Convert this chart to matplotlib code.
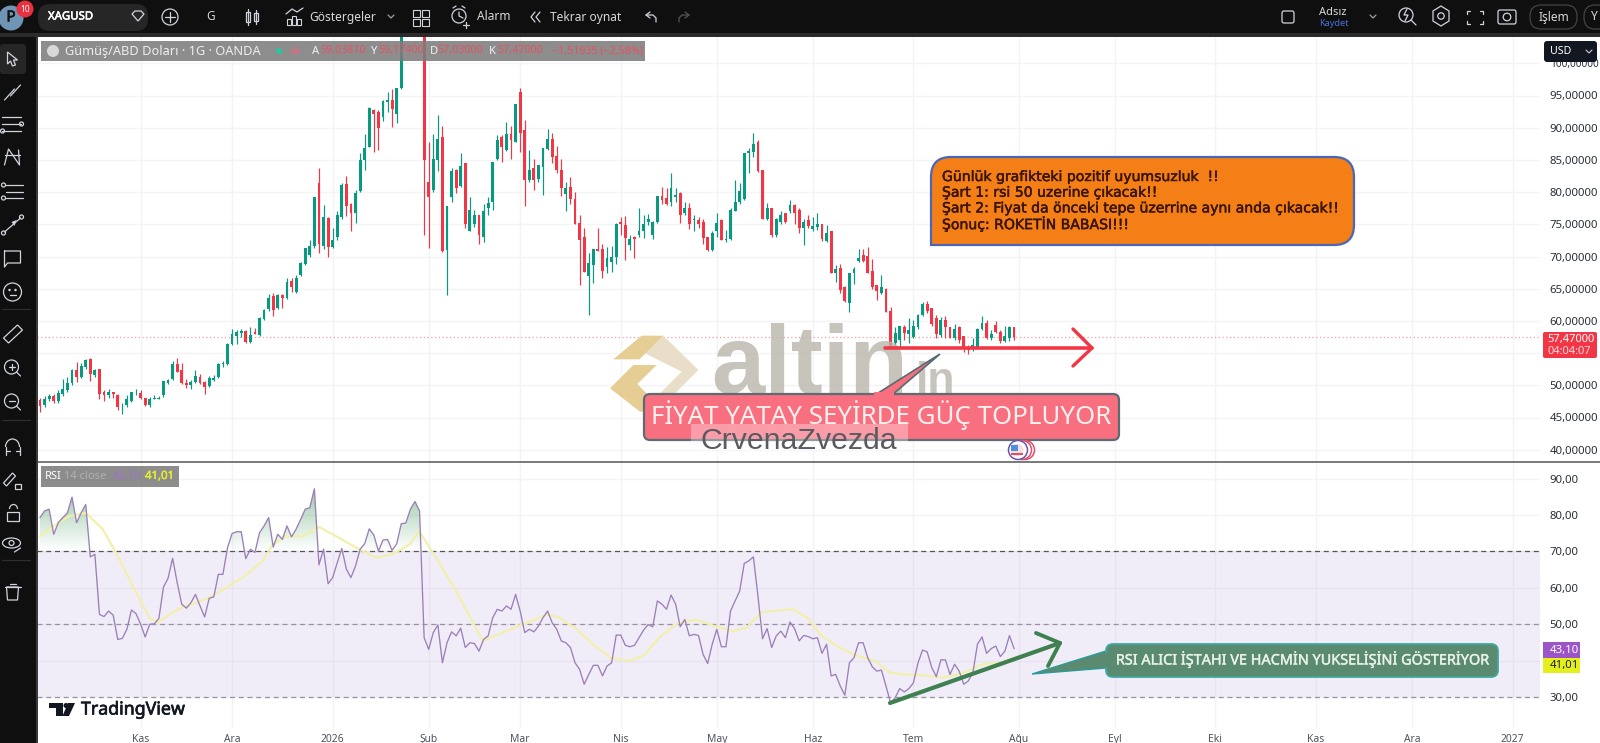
import numpy as np
import matplotlib
matplotlib.use("Agg")
import matplotlib.pyplot as plt
import matplotlib.patheffects as pe
from matplotlib.patches import FancyBboxPatch, Polygon, Circle, Rectangle, PathPatch
from matplotlib.path import Path

plt.rcParams['font.family'] = ['Noto Sans', 'DejaVu Sans']

opens = [47.7,46.9,47.9,48.4,47.6,48.6,49.3,50.3,52.3,51.3,
52.8,54.1,51.6,52.5,49,48.5,48.9,48.5,46.9,47,
47.5,48.9,48.8,48,46.9,47.9,47.9,48.5,50.3,51,
53.3,52.3,50.4,50,50.5,51.3,50.5,49.9,50.8,51.3,
53.3,53.3,56.4,57.7,58.1,58.4,56.8,58.2,57.8,60.3,
61.8,63.8,62,64,63.6,66.2,64.5,67.2,68.9,70.2,
71.6,81.4,71.6,76,71.4,73,76.2,81.2,78.2,76.7,
80.2,85,87,92.8,92.5,91.7,94,94.3,92.2,96.1,
105,111,116,114,112,81.6,80.4,85,88.5,71,
79.3,83.4,81,84.5,74,75.1,76.4,73.1,77.5,78.5,
85.1,88.5,86.5,89,87.8,95.6,89.7,81.9,83.7,82.1,
83.9,86.7,88.3,85.6,83.4,79.7,80.8,79,75.2,73,
67,68.7,71.1,71.2,68.3,69.2,70,75.3,74.9,71.8,
73.1,73.3,73.9,75.3,73.3,75.3,79.4,79.1,78.5,79.2,
79.9,76.7,77.5,75.6,75.6,75.4,73,71,73.9,75.7,
72.6,72.7,77.1,78.4,79,86,86.3,87.8,83.5,75.8,
77.5,73.3,75.4,76.7,77,78,77.2,74.5,75.7,74.2,
74.6,75,72.4,73.9,67.5,68.2,65.3,62.8,67.4,69.3,
70.2,70,67.8,65.6,64.4,65,61.6,56.5,57.1,59.1,
58,57.5,59.1,60.9,62.7,62,60.4,57.8,60.2,59,
57.3,59,57.6,55.8,55.6,56,58.8,59.7,57.3,59.3,
58.3,56.9,57.3,59]
highs = [48,48.3,48.6,48.7,49.2,51,51.3,52.5,53.6,53.4,
54.1,54.3,52.6,52.6,49.3,49.4,49,48.6,47.2,48.5,
49,49.4,49.2,48.1,48.2,48.5,48.4,50.7,51,53.7,
54.2,53.4,51,50.9,52.3,51.7,50.6,51.4,51.6,53.4,
53.8,56.5,58.8,58.6,58.8,58.6,59,58.9,60.6,61.9,
64.1,64.3,64.2,64.1,66.7,66.6,67.1,69.2,71.3,72.5,
79.3,83.8,78,76.1,74.4,77.1,81.4,82.5,78.3,80.4,
86,89,93.2,92.9,92.7,94.3,95.5,96,96.2,108,
112,117,121,122,115,87.8,89,92,90.2,77.9,
83.7,83.6,86.1,84.5,79.2,77.2,76.5,78.2,79.3,84.6,
88.9,88.9,90.9,90.2,93.7,96.1,91.2,86.6,85.2,84.2,
86.8,89.8,89.2,87.1,85.2,81.5,82.4,80,76.5,74.4,
70.6,71.1,74.5,72,71.5,71.6,75.2,76.2,76.3,73.3,
73.2,77.5,76.4,76.6,75.5,79.4,80.8,80.7,82.9,80.6,
80,78.5,78.3,76.4,76.2,75.9,73.1,73.9,76.8,75.9,
74.1,77.6,81.9,81.4,86,86.8,89.1,88.1,83.5,78.3,
77.6,76,77,76.8,78.7,78.2,77.5,75.9,76.4,76.2,
76.8,75.1,74.9,74,68.7,68.9,65.4,67.4,68.4,71.1,
71.1,71.5,69.6,65.6,67.1,65.1,62.2,59.1,59.2,59.4,
60.4,60.2,61,62.9,63.1,62,60.9,60.6,60.7,59.1,
59.5,59.2,57.7,56.2,57.3,58.9,60.7,60.1,58.6,60,
58.6,59.2,59.2,59.1]
lows = [45.9,46.6,47.6,47.2,47.3,48.3,49,50.1,50.5,51.2,
52.6,50.7,51.3,47.8,47.6,48.1,48,46.2,45.6,46.7,
47.4,48.5,47.8,46.8,46.6,47.8,47.8,48.2,50.2,50.8,
52,50.2,49.6,49.4,50.4,50.2,48.7,49.7,50.6,51.2,
52.8,53.2,56.2,56.4,57.5,56.6,56.5,57.9,57.7,60.1,
61.6,60.8,61.8,62,63.4,64.5,64.3,67,68.7,70,
71.3,70.5,71.1,70,71.3,72.6,75.9,76.3,73.9,75.2,
80,83.4,87,86.3,86.5,91,92.4,90.1,90.8,96,
104.6,110,113,108,73.3,71.3,80,83.2,70.7,64,
78.5,79.9,80.8,74.4,73.9,74.6,72,72.3,76.4,77.2,
85,84.7,86.4,85.1,87.8,86.3,77.9,81.6,80.3,81.6,
79.5,86.6,84.5,82.9,79.4,77,78.1,75,65.5,67.6,
60.9,65.9,70.8,66.6,67.4,67.6,68.9,73.3,69.5,71,
69.7,73,72.8,74.9,72.7,75.2,78.2,78,77.9,78.5,
75.2,76.4,74.2,73.9,74.4,72,70.8,70.9,73,72.5,
72.3,72.6,77,78.2,78.8,82.9,85.5,83.1,75.8,75.6,
73,73,75.1,75.2,76.7,75.1,73.6,71.8,74.5,74,
74.1,72.4,72.3,67.5,66.1,64.3,63,61.4,65.8,69.2,
69.1,67.4,65,63.2,64.2,61.4,56,56.3,56,57,
56.5,57.3,58.8,60.7,61.3,59.2,57.3,57.5,57.3,57.4,
57,56.5,55.2,54.9,55.4,55.9,58.6,57.2,57,58.1,
56.6,56.8,56.9,57]
closes = [46.8,47.8,48.3,47.5,48.8,49.5,50.3,52.4,51.3,53,
54,51.8,52.3,48.6,48.5,48.9,48.6,46.7,47,47.8,
48.9,49,48,46.9,47.9,48,48.1,50.6,50.9,53.3,
52.1,50.3,50,50.5,51.5,50.4,49.7,51.2,51.2,53.3,
53.5,56.4,58,58.3,58.4,56.8,57.8,57.9,60.5,61.7,
63.5,61.7,64,63.6,66,65.2,66.6,69,71.3,71.6,
79.3,72,76.1,71.5,72.6,76.4,81.1,77.9,76.7,79.8,
85,86.8,93,92.2,90,94.2,94.3,92.9,96.1,105,
111,116,114,112,85,79.2,85.2,88.2,70.8,77.9,
83.2,80.6,84.1,75.1,77.2,76.5,73.3,77,78.3,84.6,
88.1,87,89,88.1,93.7,89.1,81.9,83.4,81.9,84.2,
86.8,88.2,85.5,83.4,80.6,80.6,79,75.1,72.6,67.6,
69,71.1,70.9,67.8,69.7,69.9,75.1,75,72.8,72.7,
72.7,73.9,75.1,75.8,75.4,79.4,78.7,78.2,80.7,79.6,
76.5,77.5,75.1,75.8,75.1,72.8,71,73.6,75.2,72.6,
72.7,77.2,78.4,80.2,86,86.4,87.5,83.2,75.8,77.6,
73.3,75.8,76.4,75.3,78,76.8,74.4,75.4,74.7,74.7,
75,72.7,73.6,67.5,68,64.8,63.1,67.4,68,69.7,
69.3,67.5,65.2,64.7,65.2,61.4,56,58.1,59.2,58.1,
58.6,59.2,60.9,62.6,61.6,59.5,58,60.1,59,57.4,
58.8,57,56,55.5,56.3,58.8,59.7,57.4,58,58.3,
56.9,57.6,59,57.47]
rsi = [79.3,81.1,81.6,74.7,77.9,79.3,80.6,84.9,77.9,80.6,
82.9,68.5,69.2,52.7,52.1,53.6,52.5,45.8,46.1,48.6,
53.9,52.9,50,46.5,50,50.1,51.6,60.2,62.6,68.1,
61.4,55.5,54.4,55.9,58.2,55,52,57.1,57.5,63.7,
63.7,71,74.9,75.4,75.4,68,70.6,69.7,75.1,77,
79.3,71.2,74.7,73.3,77,74,76.1,78.8,81.6,82,
87.2,66.3,70.6,61.1,62.8,66.9,70.8,65.1,62.8,66,
70.6,72.1,76.2,74.5,70.1,73.1,73.3,70.3,72.1,77.6,
77.8,81.6,83.7,81.1,46.3,43.1,47.7,49.8,39.4,44.9,
47.9,46.8,48.9,43.6,44.9,44.7,42.6,45.8,46.8,51.8,
54.1,53.6,55,54.1,58.2,53.6,47.7,48.6,47.9,49.5,
51.8,53.6,50.4,48.6,45.4,44.9,43.6,39.4,37.6,33.5,
36.2,38.7,38.7,35.8,38.5,39.4,47,47,44.2,43.8,
44.2,46.3,48.4,49.9,49.3,56.4,55.5,54.1,58,55.5,
49.3,51.3,46.8,47.2,46.9,41.7,39.2,44.5,48.6,43.8,
43.8,53.6,56.4,59.1,66.7,67.4,68.5,57.7,46,48.8,
43.6,46.8,48.1,46.3,50.6,48.8,45.4,46.9,46.6,46,
46.3,42,44.5,35.8,36.2,33,30.5,39.4,40.8,44.9,
44.9,40.8,38.3,37.1,37.4,33,28.4,29.8,32.3,31.4,
32.3,33.9,39.4,42.9,42.4,38.1,35.6,40.2,40.2,36.2,
39,37.1,33.5,34.4,36.7,44.5,46.5,42,43.3,44,
41.1,42.6,46.9,43.3]
ma_bars = [0,3.5,6.4,10,13.7,16.6,20.3,23.9,25.7,28.3,31.2,34.1,37,40.7,44.3,48.7,50.9,53.8,57.4,61.1,
64.7,69.8,73.5,77.1,80.8,82.9,86.6,91,96.8,101.2,106.3,108.4,110.8,113.5,117,120.9,124.8,128.7,131.9,135.8,
139.7,143.6,147.5,151.4,154.5,157.6,161.5,164.7,167.8,170.9,174.8,178.7,182.6,185.8,188.9,192.8,197.5,202.2,206,210,213]
ma_vals = [74.2,77.4,79.7,80.6,76.1,69.7,60.5,51.8,50.4,52.7,54.7,55.9,57.3,60,62.8,67.4,71.9,74.2,74.2,76.7,
74.2,70.6,68.3,69.2,71.9,75.6,68.3,59.1,45.4,47.7,50.4,51.3,52.7,51.8,49,44.5,40.8,39.9,41.3,46.8,
50.4,51.2,49.5,48.1,49,53.2,53.8,54.1,51.8,46.8,43.6,41.3,39.9,36.7,36.2,36,35.3,36.7,39,39.4,40.8]
price_ticks = [40,45,50,60,65,70,75,80,85,90,95,100]
price_labels = ["40,00000","45,00000","50,00000","60,00000","65,00000","70,00000","75,00000","80,00000","85,00000","90,00000","95,00000","100,00000"]
rsi_ticks = [30,50,60,70,80,90]
rsi_labels = ["30,00","50,00","60,00","70,00","80,00","90,00"]
date_bars = [22,42,64,85,105,127,148,169,191,214,235,257,279,300,322]
date_labels = ["Kas","Ara","2026","Şub","Mar","Nis","May","Haz","Tem","Ağu","Eyl","Eki","Kas","Ara","2027"]
last_price = 57.47
rsi_last, ma_last = 43.10, 41.01

W, H = 1600, 743
fig = plt.figure(figsize=(W/100, H/100), dpi=100, facecolor='white')
def pane(x0, y0, x1, y1, z):
    a = fig.add_axes([x0/W, 1-y1/H, (x1-x0)/W, (y1-y0)/H], zorder=z)
    a.set_facecolor('none')
    return a

# price pane
GRID = '#f3f4f6'
PX_L, PX_R = 37, 1540
bar_px = 4.573
xlim = ((PX_L-40)/bar_px, (PX_R-40)/bar_px)
ax = pane(PX_L, 37, PX_R, 462, 2)
ax.set_xlim(*xlim)
ax.set_ylim(40-(462-449.7)/6.44, 40+(449.7-37)/6.44)
O, Hi, Lo, C = map(np.array, (opens, highs, lows, closes))
X = np.arange(len(O))
cols = np.where(C >= O, '#089981', '#f23645')
for t in list(range(40, 101, 5)):
    ax.axhline(t, color=GRID, lw=1, zorder=0)
for b in date_bars:
    ax.axvline(b, color=GRID, lw=1, zorder=0)
ax.vlines(X, Lo, Hi, colors=cols, lw=0.85, zorder=2)
ax.bar(X, np.abs(C-O), bottom=np.minimum(O, C), width=0.62, color=cols, lw=0, zorder=3)
ax.axhline(last_price, color='#f23645', lw=0.9, ls=(0, (1, 2)), alpha=0.5, zorder=1)
ax.yaxis.tick_right()
ax.set_yticks(price_ticks, price_labels, fontsize=8.2, color='#2a2e39')
ax.get_yticklabels()[-1].set_fontsize(7.2)
ax.set_xticks([])
ax.tick_params(axis='y', length=0, pad=7)
for s in ax.spines.values():
    s.set_visible(False)

# RSI pane
ar = pane(PX_L, 462, PX_R, 728, 2)
ar.set_xlim(*xlim)
ylo, yhi = 30-(728-697)/3.64, 30+(697-462)/3.64
ar.set_ylim(ylo, yhi)
for t in range(30, 91, 10):
    ar.axhline(t, color=GRID, lw=1, zorder=0)
for b in date_bars:
    ar.axvline(b, color=GRID, lw=1, zorder=0)
ar.axhspan(30, 70, color='#7e57c2', alpha=0.1, lw=0, zorder=0.5)
ar.axhline(70, color='#555555', lw=0.9, ls=(0, (4, 3)), zorder=1)
ar.axhline(50, color='#9a90a0', lw=0.9, ls=(0, (4, 3)), zorder=1)
ar.axhline(30, color='#9a90a0', lw=0.9, ls=(0, (4, 3)), zorder=1)
R = np.array(rsi)
fb = ar.fill_between(X, 70, R, where=R >= 70, interpolate=True, color='none', lw=0)
clip = Path.make_compound_path(*fb.get_paths())
grad = np.zeros((64, 2, 4))
grad[..., :3] = matplotlib.colors.to_rgb('#3f9a55')
grad[..., 3] = np.linspace(0.55, 0.0, 64)[:, None]
im = ar.imshow(grad, extent=(xlim[0], xlim[1], 70, 88), aspect='auto', zorder=1.5, origin='upper')
im.set_clip_path(PathPatch(clip, transform=ar.transData))
ar.set_xlim(*xlim); ar.set_ylim(ylo, yhi)
ar.plot(ma_bars, ma_vals, color='#f2f0a8', lw=1.5, zorder=2, solid_capstyle='round')
ar.plot(X, R, color='#9b7fb8', lw=0.95, zorder=3)
ar.yaxis.tick_right()
ar.set_yticks(rsi_ticks, rsi_labels, fontsize=8.2, color='#2a2e39')
ar.tick_params(axis='y', length=0, pad=7)
ar.set_xticks(date_bars, date_labels, fontsize=7.4, color='#50535e')
ar.tick_params(axis='x', length=0, pad=4)
for s in ar.spines.values():
    s.set_visible(False)

# overlay in image pixels
ov = pane(0, 0, W, H, 5)
ov.set_xlim(0, W); ov.set_ylim(H, 0); ov.axis('off')

def rbox(x0, y0, x1, y1, r, fc, ec='none', lw=0, alpha=None, z=5):
    p = FancyBboxPatch((x0+r, y0+r), x1-x0-2*r, y1-y0-2*r, boxstyle=f"round,pad={r},rounding_size={r}",
                       fc=fc, ec=ec, lw=lw, alpha=alpha, zorder=z)
    ov.add_patch(p); return p
def rect(x0, y0, x1, y1, fc, alpha=None, z=5):
    ov.add_patch(Rectangle((x0, y0), x1-x0, y1-y0, fc=fc, ec='none', alpha=alpha, zorder=z))
def poly(pts, fc, ec='none', lw=0, alpha=None, z=5):
    ov.add_patch(Polygon(pts, closed=True, fc=fc, ec=ec, lw=lw, alpha=alpha, zorder=z))
def line(xs, ys, c='#d1d4dc', lw=0.9, z=6, **k):
    ov.plot(xs, ys, color=c, lw=lw, zorder=z, solid_capstyle='round', **k)
def circ(x, y, r, fc='none', ec='#d1d4dc', lw=0.9, z=6):
    ov.add_patch(Circle((x, y), r, fc=fc, ec=ec, lw=lw, zorder=z))
def txt(x, y, s, c='#d8d8d8', fs=8.5, ha='left', va='center', w='normal', z=7, stroke=0, **k):
    t = ov.text(x, y, s, color=c, fontsize=fs, ha=ha, va=va, fontweight=w, zorder=z, **k)
    if stroke:
        t.set_path_effects([pe.withStroke(linewidth=stroke, foreground=c)])
    return t

# pane divider and frame
line([37, 1600], [462, 462], c='#555555', lw=1.1, z=4)

# watermark logo
WM = 3
gold, beige = '#e6cd94', '#e9dfc8'
def lp(pts): return [(600+a/3, 320+b/3) for a, b in pts]
poly(lp([(190,47),(295,150),(210,235),(165,235),(245,155),(135,100),(190,47)]), beige, z=WM)
poly(lp([(40,118),(125,47),(190,47),(118,118)]), gold, z=WM)
poly(lp([(30,205),(100,135),(170,135),(112,192),(180,262),(165,275),(120,275)]), gold, z=WM)
txt(711, 393, "altin", c='#b9b6aa', fs=69, w='bold', va='baseline', z=WM, family='Liberation Sans', alpha=0.8)
txt(916, 393, "in", c='#b9b6aa', fs=32, w='bold', va='baseline', z=WM, family='Liberation Sans', alpha=0.8)

# red horizontal arrow
RED = '#f23645'
line([885, 1092], [348, 348], c=RED, lw=2.6)
line([1073, 1092, 1073], [329, 348, 366], c=RED, lw=2.4)

# red callout
poly([(875, 395), (940, 354), (892, 395)], '#f8707f', ec='#566a72', lw=1.2, z=6)
rbox(644, 394, 1119, 440, 6, '#f8707f', ec='#5d6b73', lw=1.6, z=6)
rect(874, 392, 894, 397, '#f8707f', z=6.1)
txt(881, 415, "FİYAT YATAY SEYİRDE GÜÇ TOPLUYOR", c='#fdf0ee', fs=18.6, ha='center', z=7)
rect(691, 424, 908, 456, 'white', alpha=0.32, z=7.1)
txt(700, 441, "CrvenaZvezda", c='#5a5a60', fs=21.8, z=7.2, family='Liberation Sans')

# orange note
ox0, oy0, ox1, oy1, cr = 931, 157, 1354, 245, 20
verts = [(ox0, oy1), (ox0, oy0+cr), (ox0, oy0), (ox0+cr, oy0), (ox1-cr, oy0), (ox1, oy0), (ox1, oy0+cr),
         (ox1, oy1-cr), (ox1, oy1), (ox1-cr, oy1), (ox0, oy1), (ox0, oy1)]
codes = [Path.MOVETO, Path.LINETO, Path.CURVE3, Path.CURVE3, Path.LINETO, Path.CURVE3, Path.CURVE3,
         Path.LINETO, Path.CURVE3, Path.CURVE3, Path.LINETO, Path.CLOSEPOLY]
ov.add_patch(PathPatch(Path(verts, codes), fc='#f57f17', ec='#4a66b8', lw=1.6, zorder=6))
note = ["Günlük grafikteki pozitif uyumsuzluk  !!", "Şart 1: rsi 50 uzerine çıkacak!!",
        "Şart 2: Fiyat da önceki tepe üzerrine aynı anda çıkacak!!", "Şonuç: ROKETİN BABASI!!!"]
for i, s in enumerate(note):
    txt(942, 177+i*15.7, s, c='#3a1500', fs=10.1, z=7, family='DejaVu Sans', stroke=0.35)

# green trend arrow
GR = '#3f8050'
line([890, 1060], [703, 643], c=GR, lw=3)
line([1036, 1060, 1048], [633, 643, 666], c=GR, lw=2.8)

# green callout
poly([(1106, 651), (1032, 674), (1106, 668)], '#5a8a70', ec='#2b9c9a', lw=1.0, z=6)
rbox(1106, 644, 1498, 677, 7, '#5a8a70', ec='#3fa8a0', lw=1.3, z=6)
rect(1103, 653, 1110, 667, '#5a8a70', z=6.1)
txt(1302, 660, "RSI ALICI İŞTAHI VE HACMİN YUKSELİŞİNİ GÖSTERİYOR", c='#e9f2e8', fs=10.4, ha='center', z=7, stroke=0.3)

# event icon
for cx, e in [(1025, '#e0506a'), (1022, '#e0506a'), (1018, '#6a55a8')]:
    circ(cx, 450, 9.5, fc='white', ec=e, lw=1.1, z=6)
circ(1017, 450, 6.5, fc='#f6dfe3', ec='none', lw=0, z=6.2)
rect(1011, 445, 1018, 451, '#4d8fe0', z=6.3)
rect(1011, 453, 1023, 454.5, '#e05060', z=6.3)

# price scale tags
rbox(1544, 41, 1597, 62, 3, '#131722', z=6)
txt(1550, 51.5, "USD", c='white', fs=7.6, z=7)
line([1586, 1589, 1592], [50, 53, 50], c='#c8c8c8', lw=0.8, z=7)
rbox(1543, 332, 1597, 358, 2, RED, z=6)
txt(1547, 339.5, "57,47000", c='white', fs=8, z=7)
txt(1547, 351, "04:04:07", c='#fbd7da', fs=8, z=7)
rect(1543, 642, 1580, 658, '#9c55c8', z=6)
rect(1543, 658, 1580, 673, '#e4f01e', z=6)
txt(1550, 650, "43,10", c='white', fs=8.2, z=7)
txt(1550, 665.5, "41,01", c='#222222', fs=8.2, z=7)

# legends
rect(41, 41, 645, 61, '#7d7d7d', alpha=0.88, z=6)
circ(53, 51, 6, fc='#d8d8d8', ec='none', lw=0, z=7)
txt(65, 51, "Gümüş/ABD Doları · 1G · OANDA", c='#eeeeee', fs=9.2, z=7)
circ(279, 51, 3, fc='#26c7a0', ec='none', lw=0, z=7)
txt(290, 51, "≡", c='#f2657a', fs=9, z=7)
for lx, lab, vx, val in [(312, "A", 320, "59,03810"), (370, "Y", 378, "59,17400"),
                         (430, "D", 437, "57,03000"), (489, "K", 497, "57,47000")]:
    txt(lx, 51, lab, c='#f2f2f2', fs=8, z=7)
    txt(vx, 51, val, c='#e8505f', fs=7.7, z=7)
txt(552, 51, "−1,51935 (−2,58%)", c='#e8505f', fs=7.7, z=7)
rect(41, 466, 179, 487, '#7d7d7d', alpha=0.88, z=6)
txt(45, 476.5, "RSI", c='white', fs=8, z=7)
txt(64, 476.5, "14 close", c='#b0b0b0', fs=8, z=7)
txt(113, 476.5, "43,10", c='#a070d0', fs=8, z=7)
txt(145, 476.5, "41,01", c='#e6ee30', fs=8.2, z=7, stroke=0.3)

# TradingView mark
poly([(49,703),(63,703),(63,716),(56,716),(56,708),(49,708)], '#131722', z=6)
circ(66, 705.5, 2.5, fc='#131722', ec='none', lw=0)
poly([(68,703),(75,703),(69,716),(62.5,716)], '#131722', z=6)
txt(81, 709.5, "TradingView", c='#131722', fs=12.8, z=7, stroke=0.5)

# dark chrome
rect(0, 0, W, 33, '#0f0f0f', z=8)
rect(0, 33, W, 37, '#2b2b2b', z=8)
rect(0, 37, 36, H, '#0f0f0f', z=8)
rect(36, 37, 37.5, H, '#3a3a3a', z=8)
Z = 9
def L(xs, ys, c='#d1d4dc', lw=0.9): line(xs, ys, c=c, lw=lw, z=Z)
def CC(x, y, r, c='#d1d4dc', lw=0.9, fc='none'): circ(x, y, r, fc=fc, ec=c, lw=lw, z=Z)
def T(x, y, s, **k): txt(x, y, s, z=Z+1, **k)

circ(11, 18, 12.5, fc='#6f94b4', ec='none', lw=0, z=Z)
T(11, 18, "P", c='#111111', fs=11, ha='center', stroke=0.4)
circ(25, 9, 8.5, fc='#e8303f', ec='none', lw=0, z=Z+0.5)
T(25, 9, "10", c='white', fs=6, ha='center')
rbox(38, 4, 148, 31, 12, '#262626', z=Z-0.5)
T(48, 17, "XAGUSD", c='white', fs=8.2, stroke=0.4)
poly([(132, 14), (135, 11), (141, 11), (144, 14), (138, 21)], 'none', ec='#d1d4dc', lw=0.9, z=Z)
CC(170, 17, 8); L([165, 175], [17, 17]); L([170, 170], [12, 22])
T(211, 17, "G", fs=8.5, ha='center')
for cx, a, b in [(248, 12, 22), (256, 13, 21)]:
    ov.add_patch(Rectangle((cx-2, a), 4, b-a, fc='none', ec='#d1d4dc', lw=0.9, zorder=Z))
    L([cx, cx], [a-3, b+3])
for bx, top in [(287, 19), (292, 16), (297, 19)]:
    ov.add_patch(Rectangle((bx, top), 4, 25-top, fc='none', ec='#d1d4dc', lw=0.8, zorder=Z))
L([286, 292, 297, 303], [14, 9, 12, 8])
T(309, 17, "Göstergeler", fs=8.6)
L([388, 391, 394], [15, 18, 15], c='#a0a0a0')
for sx, sy in [(413, 10), (422, 10), (413, 19), (422, 19)]:
    ov.add_patch(Rectangle((sx, sy), 6.5, 6.5, fc='none', ec='#d1d4dc', lw=0.8, zorder=Z))
CC(459, 16, 7); L([459, 459, 463], [12, 16, 18]); L([453, 456], [8, 6]); L([465, 462], [8, 6]); L([466, 466], [22, 28]); L([463, 469], [25, 25])
T(477, 17, "Alarm", fs=8.6)
L([535, 531, 535], [12, 17, 22]); L([540, 536, 540], [12, 17, 22])
T(550, 17, "Tekrar oynat", fs=8.6)
L([650, 646, 650], [12, 15, 18]); L([646, 653, 656, 656], [15, 15, 18, 22])
L([685, 689, 685], [12, 15, 18], c='#555555'); L([689, 682, 679, 679], [15, 15, 18, 22], c='#555555')
ov.add_patch(FancyBboxPatch((1282, 11), 12, 12, boxstyle="round,pad=0,rounding_size=2", fc='none', ec='#d1d4dc', lw=0.9, zorder=Z))
T(1319, 12.5, "Adsız", fs=8)
T(1319, 23.5, "Kaydet", c='#4a6fd8', fs=6.6)
L([1370, 1373, 1376], [15, 18, 15], c='#a0a0a0')
CC(1406, 15, 7); L([1411, 1416], [20, 25]); L([1407, 1404, 1408, 1405], [9, 15, 15, 21])
poly([(1441, 6), (1449, 11), (1449, 21), (1441, 26), (1433, 21), (1433, 11)], 'none', ec='#d1d4dc', lw=0.9, z=Z)
CC(1441, 16, 3.2)
for a, b, sa, sb in [(1467, 11, 1, 1), (1483, 11, -1, 1), (1467, 24, 1, -1), (1483, 24, -1, -1)]:
    L([a+3*sa, a, a], [b, b, b+3*sb])
ov.add_patch(FancyBboxPatch((1498, 10), 18, 14, boxstyle="round,pad=0,rounding_size=2", fc='none', ec='#d1d4dc', lw=0.9, zorder=Z))
CC(1507, 17, 3.8)
ov.add_patch(FancyBboxPatch((1530, 5), 47, 24, boxstyle="round,pad=0,rounding_size=11", fc='none', ec='#444444', lw=0.9, zorder=Z))
T(1553.5, 17, "İşlem", fs=8.6, ha='center')
ov.add_patch(FancyBboxPatch((1584, 5), 30, 24, boxstyle="round,pad=0,rounding_size=11", fc='none', ec='#444444', lw=0.9, zorder=Z))
T(1591, 17, "Y", fs=8.6)

# left toolbar
rbox(0, 44, 26, 74, 3, '#262626', z=Z-0.5)
icons_y = [59, 92, 124, 157, 191, 225, 258, 292, 334, 368, 402, 448, 481, 514, 544, 592]
for yy in (309, 420, 560):
    L([2, 30], [yy, yy], c='#2e2e2e')
ic = 12.5
ys = icons_y
poly([(ic-5, ys[0]-7), (ic+5, ys[0]+1), (ic+1, ys[0]+1), (ic+3, ys[0]+6), (ic, ys[0]+7), (ic-2, ys[0]+2), (ic-5, ys[0]+5)], 'none', ec='#d1d4dc', lw=0.9, z=Z)
L([ic-8, ic+2], [ys[1]+8, ys[1]-3]); L([ic-2, ic+8], [ys[1]+4, ys[1]-7])
for yy in (ys[2]-7, ys[2], ys[2]+7):
    L([ic-11, ic+8], [yy, yy])
CC(ic+9, ys[2], 2); CC(ic-10, ys[2]+7, 2)
pts = [(ic-8, ys[3]+8), (ic-4, ys[3]-8), (ic+7, ys[3]+8), (ic+6, ys[3]-7)]
L([p[0] for p in pts], [p[1] for p in pts])
L([ic-8, ic+7], [ys[3]-2, ys[3]-2])
for yy in (ys[4]-6, ys[4]+1, ys[4]+7):
    L([ic-7, ic+10], [yy, yy])
CC(ic-9, ys[4]-6, 2); CC(ic-9, ys[4]+7, 2)
L([ic-8, ic+8], [ys[5]+7, ys[5]-7]); CC(ic-9, ys[5]+8, 2); CC(ic+9, ys[5]-8, 2)
poly([(ic+4, ys[5]-5), (ic-1, ys[5]-3), (ic+2, ys[5]+1)], '#d1d4dc', z=Z)
L([ic-8, ic+8, ic+8, ic-5, ic-8, ic-8], [ys[6]-7, ys[6]-7, ys[6]+5, ys[6]+5, ys[6]+9, ys[6]-7])
CC(ic, ys[7], 9); L([ic-3, ic+3], [ys[7]+3, ys[7]+3]); CC(ic-3, ys[7]-2, 0.6); CC(ic+3, ys[7]-2, 0.6)
poly([(ic-9, ys[8]+4), (ic+5, ys[8]-9), (ic+10, ys[8]-4), (ic-4, ys[8]+9)], 'none', ec='#d1d4dc', lw=0.9, z=Z)
CC(ic-1, ys[9]-1, 7); L([ic+4, ic+8], [ys[9]+4, ys[9]+8]); L([ic-4, ic+2], [ys[9]-1, ys[9]-1]); L([ic-1, ic-1], [ys[9]-4, ys[9]+2])
CC(ic-1, ys[10]-1, 7); L([ic+4, ic+8], [ys[10]+4, ys[10]+8]); L([ic-4, ic+2], [ys[10]-1, ys[10]-1])
L([ic-7, ic-7], [ys[11]+7, ys[11]-1]); L([ic+7, ic+7], [ys[11]+7, ys[11]-1])
ov.add_patch(matplotlib.patches.Arc((ic, ys[11]-1), 14, 16, theta1=180, theta2=360, ec='#d1d4dc', lw=0.9, zorder=Z))
L([ic-7, ic-3], [ys[11]+3, ys[11]+3]); L([ic+3, ic+7], [ys[11]+3, ys[11]+3])
poly([(ic-9, ys[12]+2), (ic, ys[12]-8), (ic+3, ys[12]-5), (ic-6, ys[12]+5)], 'none', ec='#d1d4dc', lw=0.9, z=Z)
ov.add_patch(Rectangle((ic+2, ys[12]+3), 6, 5, fc='none', ec='#d1d4dc', lw=0.9, zorder=Z))
ov.add_patch(Rectangle((ic-6, ys[13]-2), 12, 9, fc='none', ec='#d1d4dc', lw=0.9, zorder=Z))
ov.add_patch(matplotlib.patches.Arc((ic+1, ys[13]-5), 8, 9, theta1=180, theta2=360, ec='#d1d4dc', lw=0.9, zorder=Z))
ov.add_patch(matplotlib.patches.Ellipse((ic-1, ys[14]-1), 18, 10, fc='none', ec='#d1d4dc', lw=0.9, zorder=Z))
CC(ic-1, ys[14]-1, 2.5); L([ic+2, ic+8], [ys[14]+8, ys[14]+4])
poly([(ic-6, ys[15]-5), (ic+6, ys[15]-5), (ic+5, ys[15]+8), (ic-5, ys[15]+8)], 'none', ec='#d1d4dc', lw=0.9, z=Z)
L([ic-8, ic+8], [ys[15]-5, ys[15]-5]); L([ic-3, ic+3], [ys[15]-8, ys[15]-8])

fig.savefig('out.png', dpi=100, facecolor='white')
